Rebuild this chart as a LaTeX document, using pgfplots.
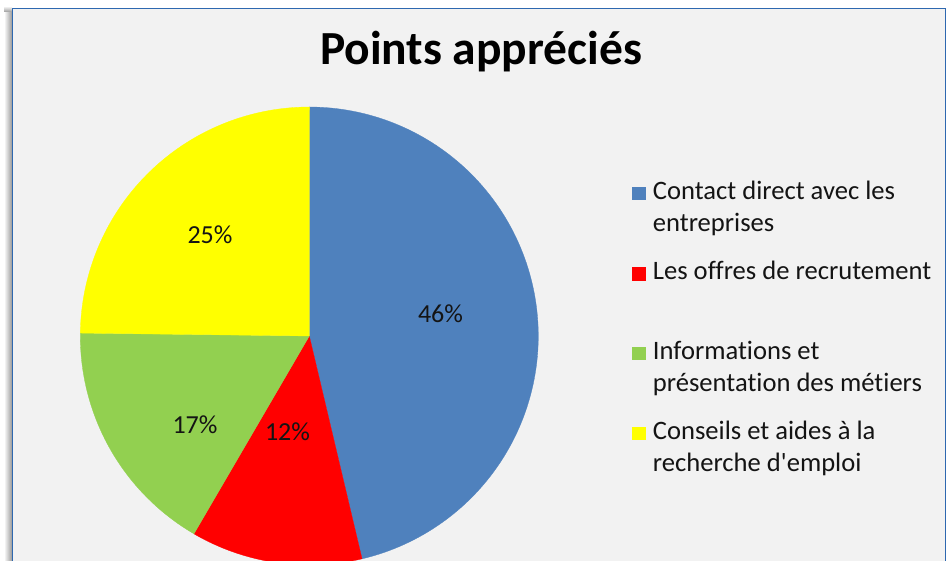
\documentclass[border=0pt]{standalone}
\usepackage{pgfplots}
\pgfplotsset{compat=1.18}
\usepackage{pgfplotstable}
\usepackage{fontspec}
\setmainfont{Carlito}[Ligatures={CommonOff}]
\definecolor{pieblue}{RGB}{79,129,189}
\definecolor{piered}{RGB}{255,0,0}
\definecolor{piegreen}{RGB}{146,208,80}
\definecolor{pieyellow}{RGB}{255,255,0}
\definecolor{chartbg}{RGB}{242,242,242}
\definecolor{frameblue}{RGB}{46,104,176}
\definecolor{txt}{RGB}{20,20,20}

\pgfplotstableread{
label value
Contact 46.3
Offres 12.1
Infos 16.8
Conseils 24.8
}\piedata
\pgfplotstablegetelem{0}{value}\of\piedata \let\vA\pgfplotsretval
\pgfplotstablegetelem{1}{value}\of\piedata \let\vB\pgfplotsretval
\pgfplotstablegetelem{2}{value}\of\piedata \let\vC\pgfplotsretval
\pgfplotstablegetelem{3}{value}\of\piedata \let\vD\pgfplotsretval
\pgfmathsetmacro\vT{\vA+\vB+\vC+\vD}
\pgfmathsetmacro\aA{90}
\pgfmathsetmacro\aB{\aA-360*(\vA/\vT)}
\pgfmathsetmacro\aC{\aB-360*(\vB/\vT)}
\pgfmathsetmacro\aD{\aC-360*(\vC/\vT)}
\pgfmathsetmacro\aE{\aD-360*(\vD/\vT)}
\def\cx{309.3}
\def\cy{336}
\def\rr{229}

\begin{document}
\begin{tikzpicture}[x=1bp,y=1bp]
\useasboundingbox (0,0) rectangle (952,561);
\begin{scope}
\clip (0,0) rectangle (952,561);
\fill[white] (0,0) rectangle (952,561);
\shade[left color=white, right color=black!40] (4,0) rectangle (12,549);
\shade[top color=white, bottom color=black!40] (4,549) rectangle (12,555);
\filldraw[fill=chartbg, draw=frameblue, line width=1bp] (12.5,-5) rectangle (945.5,552.5);
\end{scope}
\begin{axis}[
  at={(0,0)}, anchor=south west,
  width=952bp, height=561bp, scale only axis,
  xmin=0, xmax=952, ymin=0, ymax=561, y dir=reverse,
  hide axis, clip=true,
  font=\fontsize{26bp}{32bp}\selectfont\color{txt},
]
\addplot[fill=pieblue, draw=pieblue, line width=0.3bp, domain=\aB:\aA, samples=120, variable=\t]
  ({\cx+\rr*cos(\t)}, {\cy-\rr*sin(\t)}) -- (axis cs:\cx,\cy) -- cycle;
\addplot[fill=piered, draw=piered, line width=0.3bp, domain=\aC:\aB, samples=60, variable=\t]
  ({\cx+\rr*cos(\t)}, {\cy-\rr*sin(\t)}) -- (axis cs:\cx,\cy) -- cycle;
\addplot[fill=piegreen, draw=piegreen, line width=0.3bp, domain=\aD:\aC, samples=60, variable=\t]
  ({\cx+\rr*cos(\t)}, {\cy-\rr*sin(\t)}) -- (axis cs:\cx,\cy) -- cycle;
\addplot[fill=pieyellow, draw=pieyellow, line width=0.3bp, domain=\aE:\aD, samples=80, variable=\t]
  ({\cx+\rr*cos(\t)}, {\cy-\rr*sin(\t)}) -- (axis cs:\cx,\cy) -- cycle;

% data labels
\node[anchor=base, inner sep=0] at (axis cs:440.5,322.3) {46\%};
\node[anchor=base, inner sep=0] at (axis cs:287.5,440.3) {12\%};
\node[anchor=base, inner sep=0] at (axis cs:195,434) {17\%};
\node[anchor=base, inner sep=0] at (axis cs:210,244) {25\%};

% title
\node[anchor=base, inner sep=0, font=\fontsize{47.5bp}{56bp}\selectfont\bfseries\color{black}] at (axis cs:481,65) {Points appréciés};

% legend
\begin{scope}[every node/.style={anchor=base west, inner sep=0, font=\fontsize{26.6bp}{32bp}\selectfont\color{txt}}]
\fill[pieblue] (axis cs:632,186.8) rectangle (axis cs:646,200);
\node at (axis cs:652.7,199.3) {Contact direct avec les};
\node at (axis cs:652.7,231.7) {entreprises};
\fill[piered] (axis cs:632,267.5) rectangle (axis cs:646,280.7);
\node at (axis cs:652.7,280) {Les offres de recrutement};
\fill[piegreen] (axis cs:632,346.8) rectangle (axis cs:646,360);
\node at (axis cs:652.7,359.3) {Informations et};
\node at (axis cs:652.7,391.7) {présentation des métiers};
\fill[pieyellow] (axis cs:632,426.8) rectangle (axis cs:646,440);
\node at (axis cs:652.7,439.3) {Conseils et aides à la};
\node at (axis cs:652.7,471.7) {recherche d\textquotesingle emploi};
\end{scope}
\end{axis}
\end{tikzpicture}
\end{document}
